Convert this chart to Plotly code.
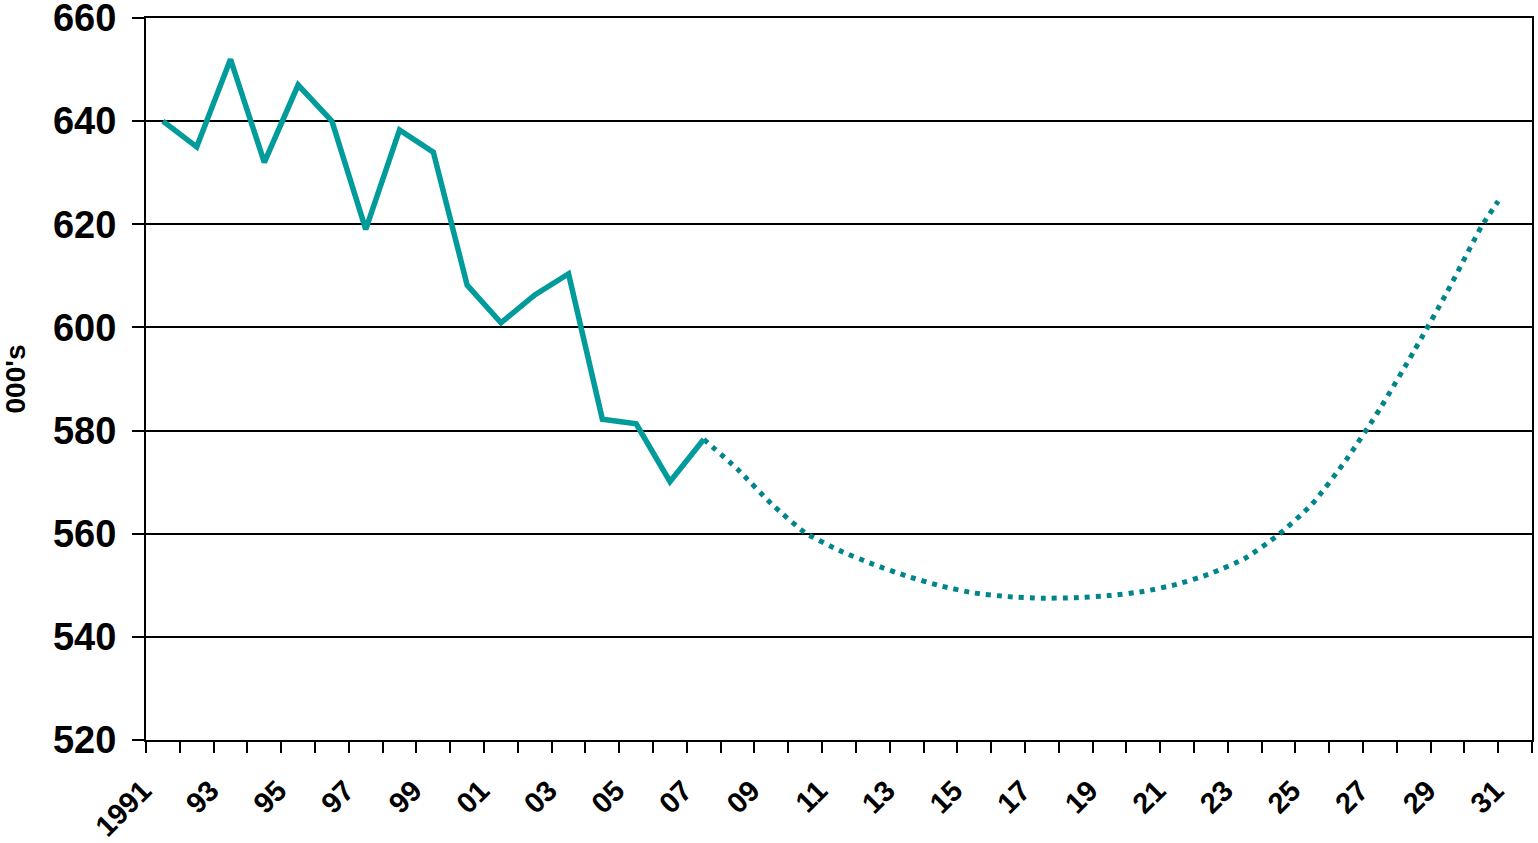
import plotly.graph_objects as go

# Recorded series, thousands
actual_years = list(range(1991, 2008))
actual_values = [640, 635, 652, 632, 647, 640, 619, 638.3, 634, 608.2,
                 600.9, 606.3, 610.4, 582.2, 581.3, 570.1, 578.3]

# Projected trend, thousands
proj_years = [2007, 2008, 2009, 2010, 2011, 2012, 2013, 2014, 2015, 2016,
              2017, 2018, 2019, 2020, 2021, 2022, 2023, 2024, 2025, 2026,
              2027, 2028, 2029, 2030, 2030.5]
proj_values = [578.3, 572.5, 565.8, 560.2, 556.8, 554.1, 551.8, 549.9, 548.5, 547.8,
               547.5, 547.6, 548.0, 548.8, 550.2, 552.3, 555.2, 559.8, 565.8, 574.3,
               584.2, 595.3, 607.0, 619.5, 624.5]

# Axis labels
label_years = list(range(1991, 2032, 2))
label_text = ["1991"] + [f"{y % 100:02d}" for y in label_years[1:]]
y_ticks = [520, 540, 560, 580, 600, 620, 640, 660]

FONT = "Liberation Sans, Arial, sans-serif"

fig = go.Figure()
fig.add_trace(go.Scatter(
    x=proj_years, y=proj_values, mode="lines",
    line=dict(color="#00858a", width=5, dash="5px,6px", shape="spline", smoothing=0.6),
    hoverinfo="x+y", showlegend=False,
))
fig.add_trace(go.Scatter(
    x=actual_years, y=actual_values, mode="lines",
    line=dict(color="#009b9a", width=5.5),
    hoverinfo="x+y", showlegend=False,
))

fig.update_layout(
    width=1538, height=843,
    margin=dict(l=146, r=6, t=18, b=103),
    paper_bgcolor="white", plot_bgcolor="white",
    font=dict(family=FONT, color="black"),
    xaxis=dict(
        range=[1990.5, 2031.5], automargin=False,
        tickmode="array", tickvals=label_years, ticktext=label_text,
        tickangle=-45, ticks="",
        tickfont=dict(family=FONT, size=29, color="black", weight="bold"),
        ticklabelstandoff=20, ticklabelshift=-20,
        showgrid=False, zeroline=False,
        showline=True, linecolor="black", linewidth=2, mirror=True,
        minor=dict(tick0=1990.5, dtick=1, ticks="outside", ticklen=11,
                   tickwidth=2, tickcolor="black", showgrid=False),
    ),
    yaxis=dict(
        range=[520, 660], automargin=False,
        tickmode="array", tickvals=y_ticks,
        ticks="outside", ticklen=12, tickwidth=2, tickcolor="black",
        tickfont=dict(family=FONT, size=38, color="black", weight="bold"),
        ticklabelstandoff=8, ticklabeloverflow="allow",
        showgrid=True, gridcolor="black", gridwidth=1.6,
        zeroline=False,
        showline=True, linecolor="black", linewidth=2, mirror=True,
        title=dict(text="000's", font=dict(family=FONT, size=28, color="black", weight="bold"),
                   standoff=20),
    ),
)

fig.write_html("out.html")
